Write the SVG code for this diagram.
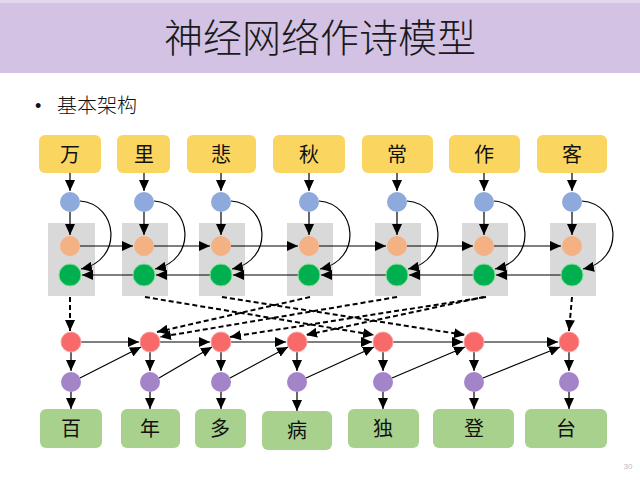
<svg xmlns="http://www.w3.org/2000/svg" width="640" height="480" viewBox="0 0 640 480">
<defs>
<marker id="ah" markerUnits="userSpaceOnUse" markerWidth="11" markerHeight="10" refX="11" refY="5" orient="auto">
<path d="M0,0 L11,5 L0,10 z" fill="#000"/>
</marker>
</defs>
<style>
.cjk{font-family:"Noto Sans CJK SC","Noto Sans CJK JP",sans-serif;}
.lbl{font-size:20px;fill:#111;text-anchor:middle;}
.yb{fill:#FAD660;}
.gb{fill:#A9D18E;}
.gray{fill:#D9D9D9;}
.blue{fill:#8EA9DB;}
.orange{fill:#F4B183;}
.green{fill:#00B050;stroke:#7FE08F;stroke-width:1;}
.red{fill:#F86A6A;stroke:#FBA0A0;stroke-width:1;}
.purple{fill:#A484C8;}
.c{stroke:#000;stroke-width:1.2;fill:none;marker-end:url(#ah);}
.d{stroke:#000;stroke-width:2;fill:none;stroke-dasharray:5,3;marker-end:url(#ah);}
</style>
<rect x="0" y="0" width="640" height="480" fill="#fff"/>
<rect x="0" y="0" width="640" height="73" fill="#D3C2E4"/>
<rect x="0" y="0" width="640" height="3" fill="#E2D8EE"/>
<text x="320" y="52" class="cjk" font-size="39" font-weight="200" text-anchor="middle" fill="#1a1a1a">神经网络作诗模型</text>
<text x="35" y="112" font-family="Liberation Sans,sans-serif" font-size="18" fill="#111">•</text>
<text x="57" y="113" class="cjk" font-size="20" font-weight="300" fill="#111">基本架构</text>
<text x="628" y="469" font-family="Liberation Sans,sans-serif" font-size="8" fill="#bbb" text-anchor="middle">30</text>

<g id="encoder-boxes">
<rect class="gray" x="48" y="223" width="47" height="73"/>
<rect class="gray" x="122" y="223" width="46" height="73"/>
<rect class="gray" x="199" y="223" width="46" height="73"/>
<rect class="gray" x="287" y="223" width="46" height="73"/>
<rect class="gray" x="375" y="223" width="46" height="73"/>
<rect class="gray" x="462" y="223" width="46" height="73"/>
<rect class="gray" x="550" y="223" width="46" height="73"/>
</g>

<g id="connectors">
<path class="c" d="M70,173 V191"/>
<path class="c" d="M144,173 V191"/>
<path class="c" d="M221,173 V191"/>
<path class="c" d="M309,173 V191"/>
<path class="c" d="M397,173 V191"/>
<path class="c" d="M484,173 V191"/>
<path class="c" d="M572,173 V191"/>
<path class="c" d="M70,212 V235"/>
<path class="c" d="M144,212 V235"/>
<path class="c" d="M221,212 V235"/>
<path class="c" d="M309,212 V235"/>
<path class="c" d="M397,212 V235"/>
<path class="c" d="M484,212 V235"/>
<path class="c" d="M572,212 V235"/>
<path class="c" d="M80,201 C118,204 124,260 81,269"/>
<path class="c" d="M154,201 C192,204 198,260 155,269"/>
<path class="c" d="M231,201 C269,204 275,260 232,269"/>
<path class="c" d="M319,201 C357,204 363,260 320,269"/>
<path class="c" d="M407,201 C445,204 451,260 408,269"/>
<path class="c" d="M494,201 C532,204 538,260 495,269"/>
<path class="c" d="M582,201 C620,204 626,260 583,269"/>
<path class="c" d="M80,246 H133"/>
<path class="c" d="M154,246 H210"/>
<path class="c" d="M231,246 H298"/>
<path class="c" d="M319,246 H386"/>
<path class="c" d="M407,246 H473"/>
<path class="c" d="M494,246 H561"/>
<path class="c" d="M133,275 H82"/>
<path class="c" d="M210,275 H156"/>
<path class="c" d="M298,275 H233"/>
<path class="c" d="M386,275 H321"/>
<path class="c" d="M473,275 H409"/>
<path class="c" d="M561,275 H496"/>
<path class="d" d="M70,297 V331"/>
<path class="d" d="M572,297 L569,331"/>
<path class="d" d="M145,297 L374,335"/>
<path class="d" d="M222,297 L465,335"/>
<path class="d" d="M310,297 L157,332"/>
<path class="d" d="M397,297 L160,337"/>
<path class="d" d="M486,297 L230,337"/>
<path class="d" d="M484,297 L306,335"/>
<path class="c" d="M81,342 H139"/>
<path class="c" d="M160,342 H210"/>
<path class="c" d="M231,342 H286"/>
<path class="c" d="M307,342 H372"/>
<path class="c" d="M393,342 H463"/>
<path class="c" d="M484,342 H558"/>
<path class="c" d="M71,352 V371"/>
<path class="c" d="M150,352 V371"/>
<path class="c" d="M221,352 V371"/>
<path class="c" d="M297,352 V371"/>
<path class="c" d="M383,352 V371"/>
<path class="c" d="M474,352 V371"/>
<path class="c" d="M569,352 V371"/>
<path class="c" d="M80,378 L141,347"/>
<path class="c" d="M159,378 L212,347"/>
<path class="c" d="M230,378 L288,347"/>
<path class="c" d="M306,378 L374,347"/>
<path class="c" d="M392,378 L465,347"/>
<path class="c" d="M483,378 L560,347"/>
<path class="c" d="M71,392 V409"/>
<path class="c" d="M150,392 V409"/>
<path class="c" d="M221,392 V409"/>
<path class="c" d="M297,392 V411"/>
<path class="c" d="M383,392 V409"/>
<path class="c" d="M474,392 V409"/>
<path class="c" d="M569,392 V409"/>
</g>

<g id="in-1"><rect class="yb" x="39" y="135" width="62" height="38" rx="6"/><text class="cjk lbl" x="70" y="162">万</text></g>
<g id="in-2"><rect class="yb" x="117" y="135" width="53" height="38" rx="6"/><text class="cjk lbl" x="144" y="162">里</text></g>
<g id="in-3"><rect class="yb" x="187" y="135" width="69" height="38" rx="6"/><text class="cjk lbl" x="221" y="162">悲</text></g>
<g id="in-4"><rect class="yb" x="273" y="135" width="72" height="38" rx="6"/><text class="cjk lbl" x="309" y="162">秋</text></g>
<g id="in-5"><rect class="yb" x="362" y="135" width="71" height="38" rx="6"/><text class="cjk lbl" x="397" y="162">常</text></g>
<g id="in-6"><rect class="yb" x="449" y="135" width="71" height="38" rx="6"/><text class="cjk lbl" x="484" y="162">作</text></g>
<g id="in-7"><rect class="yb" x="537" y="135" width="70" height="38" rx="6"/><text class="cjk lbl" x="572" y="162">客</text></g>

<g id="enc-1"><circle class="blue" cx="70" cy="202" r="10"/><circle class="orange" cx="70" cy="246" r="10"/><circle class="green" cx="70" cy="275" r="11"/></g>
<g id="enc-2"><circle class="blue" cx="144" cy="202" r="10"/><circle class="orange" cx="144" cy="246" r="10"/><circle class="green" cx="144" cy="275" r="11"/></g>
<g id="enc-3"><circle class="blue" cx="221" cy="202" r="10"/><circle class="orange" cx="221" cy="246" r="10"/><circle class="green" cx="221" cy="275" r="11"/></g>
<g id="enc-4"><circle class="blue" cx="309" cy="202" r="10"/><circle class="orange" cx="309" cy="246" r="10"/><circle class="green" cx="309" cy="275" r="11"/></g>
<g id="enc-5"><circle class="blue" cx="397" cy="202" r="10"/><circle class="orange" cx="397" cy="246" r="10"/><circle class="green" cx="397" cy="275" r="11"/></g>
<g id="enc-6"><circle class="blue" cx="484" cy="202" r="10"/><circle class="orange" cx="484" cy="246" r="10"/><circle class="green" cx="484" cy="275" r="11"/></g>
<g id="enc-7"><circle class="blue" cx="572" cy="202" r="10"/><circle class="orange" cx="572" cy="246" r="10"/><circle class="green" cx="572" cy="275" r="11"/></g>

<g id="dec-1"><circle class="red" cx="71" cy="342" r="10"/><circle class="purple" cx="71" cy="382" r="10"/></g>
<g id="dec-2"><circle class="red" cx="150" cy="342" r="10"/><circle class="purple" cx="150" cy="382" r="10"/></g>
<g id="dec-3"><circle class="red" cx="221" cy="342" r="10"/><circle class="purple" cx="221" cy="382" r="10"/></g>
<g id="dec-4"><circle class="red" cx="297" cy="342" r="10"/><circle class="purple" cx="297" cy="382" r="10"/></g>
<g id="dec-5"><circle class="red" cx="383" cy="342" r="10"/><circle class="purple" cx="383" cy="382" r="10"/></g>
<g id="dec-6"><circle class="red" cx="474" cy="342" r="10"/><circle class="purple" cx="474" cy="382" r="10"/></g>
<g id="dec-7"><circle class="red" cx="569" cy="342" r="10"/><circle class="purple" cx="569" cy="382" r="10"/></g>

<g id="out-1"><rect class="gb" x="40" y="409" width="62" height="39" rx="6"/><text class="cjk lbl" x="71" y="436">百</text></g>
<g id="out-2"><rect class="gb" x="121" y="409" width="59" height="39" rx="6"/><text class="cjk lbl" x="150" y="436">年</text></g>
<g id="out-3"><rect class="gb" x="195" y="409" width="51" height="39" rx="6"/><text class="cjk lbl" x="220" y="436">多</text></g>
<g id="out-4"><rect class="gb" x="262" y="411" width="70" height="39" rx="6"/><text class="cjk lbl" x="297" y="438">病</text></g>
<g id="out-5"><rect class="gb" x="348" y="409" width="71" height="39" rx="6"/><text class="cjk lbl" x="383" y="436">独</text></g>
<g id="out-6"><rect class="gb" x="433" y="409" width="81" height="39" rx="6"/><text class="cjk lbl" x="474" y="436">登</text></g>
<g id="out-7"><rect class="gb" x="525" y="409" width="82" height="39" rx="6"/><text class="cjk lbl" x="566" y="436">台</text></g>
</svg>
